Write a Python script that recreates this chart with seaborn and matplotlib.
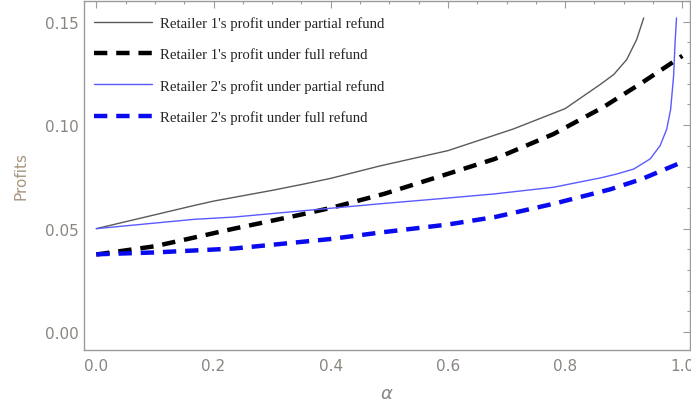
import numpy as np
import pandas as pd
import matplotlib
matplotlib.use("Agg")
import matplotlib.pyplot as plt
from matplotlib.ticker import MultipleLocator
import seaborn as sns

# ---- data ----
r1_partial_alpha = [0.0, 0.1, 0.167, 0.2, 0.3, 0.355, 0.4, 0.484, 0.6, 0.711, 0.8,
                    0.86, 0.883, 0.905, 0.922, 0.934]
r1_partial_profit = [0.050, 0.0567, 0.0612, 0.0633, 0.0685, 0.0716, 0.0743, 0.0803, 0.0877,
                     0.0981, 0.1080, 0.1197, 0.1245, 0.1317, 0.1414, 0.1518]

r1_full_alpha = [0.0, 0.1, 0.167, 0.235, 0.343, 0.4, 0.491, 0.6, 0.68, 0.78, 0.865, 0.931, 1.0]
r1_full_profit = [0.0375, 0.0415, 0.0457, 0.0500, 0.0564, 0.0600, 0.0668, 0.0765, 0.0837,
                  0.0957, 0.1087, 0.1205, 0.1335]

r2_partial_alpha = [0.0, 0.167, 0.235, 0.355, 0.484, 0.6, 0.68, 0.78, 0.86, 0.888, 0.917,
                    0.945, 0.962, 0.9733, 0.980, 0.985, 0.9875, 0.990]
r2_partial_profit = [0.050, 0.0545, 0.0556, 0.0587, 0.0620, 0.0648, 0.0668, 0.0700, 0.0745,
                     0.0764, 0.0788, 0.0837, 0.0901, 0.0981, 0.1077, 0.1237, 0.1398, 0.1518]

r2_full_alpha = [0.0, 0.1, 0.235, 0.3, 0.4, 0.484, 0.6, 0.68, 0.78, 0.877, 0.931, 1.0]
r2_full_profit = [0.0376, 0.0385, 0.0404, 0.0422, 0.0450, 0.0481, 0.0520, 0.0556, 0.0620,
                  0.0690, 0.0740, 0.0822]

labels = ["Retailer 1's profit under partial refund",
          "Retailer 1's profit under full refund",
          "Retailer 2's profit under partial refund",
          "Retailer 2's profit under full refund"]

xticks = [0.0, 0.2, 0.4, 0.6, 0.8, 1.0]
yticks = [0.00, 0.05, 0.10, 0.15]

sns.set_style("white")
plt.rcParams['font.family'] = ['DejaVu Sans']

fig = plt.figure(figsize=(6.91, 4.10), dpi=100)
ax = fig.add_axes([84/691, (410-350.5)/410, (690-84)/691, (350.5-2)/410])

frame_col = '#9a9a9a'
tick_col = '#8a8580'

dash = (0, (3.0, 2.0))
sns.lineplot(x=r1_partial_alpha, y=r1_partial_profit, ax=ax, color='#5a5a5a', lw=1.0,
             label=labels[0], sort=False)
sns.lineplot(x=r1_full_alpha, y=r1_full_profit, ax=ax, color='black', lw=3.2,
             label=labels[1], sort=False, linestyle=dash, dash_capstyle='butt')
sns.lineplot(x=r2_partial_alpha, y=r2_partial_profit, ax=ax, color='#5a5aff', lw=1.0,
             label=labels[2], sort=False)
sns.lineplot(x=r2_full_alpha, y=r2_full_profit, ax=ax, color='#0a0aee', lw=3.2,
             label=labels[3], sort=False, linestyle=dash, dash_capstyle='butt')

ax.set_xlim(-0.021, 1.013)
ax.set_ylim(-0.0084, 0.160)
ax.set_xticks(xticks)
ax.set_xticklabels([f"{t:.1f}" for t in xticks])
ax.set_yticks(yticks)
ax.set_yticklabels([f"{t:.2f}" for t in yticks])
ax.xaxis.set_minor_locator(MultipleLocator(0.05))
ax.yaxis.set_minor_locator(MultipleLocator(0.01))

for s in ax.spines.values():
    s.set_visible(True)
    s.set_color(frame_col)
    s.set_linewidth(1.0)

ax.tick_params(which='both', direction='in', top=True, right=True, color=frame_col,
               width=0.8, labelcolor=tick_col, labelsize=11)
ax.tick_params(which='major', length=5)
ax.tick_params(which='minor', length=2.5)
ax.tick_params(axis='x', pad=6)
ax.tick_params(axis='y', pad=4)

ax.set_xlabel(r"$\alpha$", color=tick_col, fontsize=13, labelpad=8)
ax.set_ylabel("Profits", color='#a89680', fontsize=11, labelpad=12)

leg = ax.legend(loc='upper left', frameon=False, prop={'family': 'Liberation Serif', 'size': 10.6},
                handlelength=3.9, handletextpad=0.55, labelspacing=1.18, borderaxespad=0.3,
                bbox_to_anchor=(0.0, 0.985))

fig.savefig("out.png", dpi=100)
